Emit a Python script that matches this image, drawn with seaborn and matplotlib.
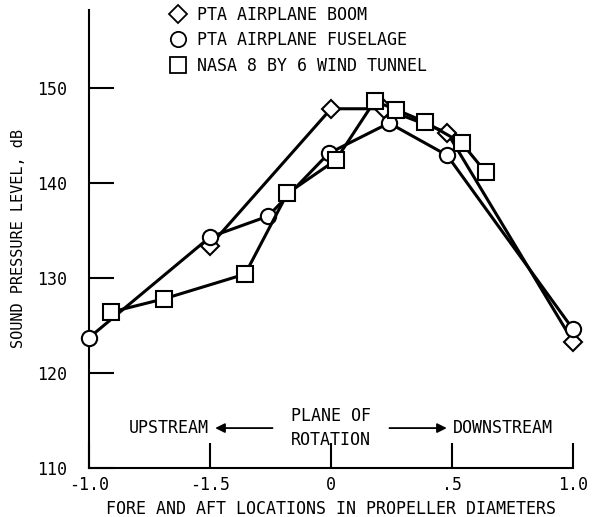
import pandas as pd
import seaborn as sns
import matplotlib.pyplot as plt
from matplotlib.lines import Line2D

# values
boom_x = [-0.50, 0.0, 0.22, 0.48, 1.0]
boom_y = [133.4, 147.8, 147.8, 145.3, 123.3]

fuselage_x = [-1.0, -0.50, -0.26, -0.01, 0.24, 0.48, 1.0]
fuselage_y = [123.7, 134.3, 136.5, 143.1, 146.3, 142.9, 124.6]

tunnel_x = [-0.91, -0.69, -0.355, -0.18, 0.02, 0.18, 0.27, 0.39, 0.54, 0.64]
tunnel_y = [126.4, 127.8, 130.4, 138.9, 142.4, 148.6, 147.7, 146.4, 144.2, 141.1]

series_names = ['PTA AIRPLANE BOOM', 'PTA AIRPLANE FUSELAGE', 'NASA 8 BY 6 WIND TUNNEL']
x_ticks = [-1.0, -0.5, 0.0, 0.5, 1.0]
x_tick_labels = ['-1.0', '-1.5', '0', '.5', '1.0']
y_ticks = [110, 120, 130, 140, 150]

df = pd.concat([
    pd.DataFrame({'x': boom_x, 'y': boom_y, 'src': series_names[0]}),
    pd.DataFrame({'x': fuselage_x, 'y': fuselage_y, 'src': series_names[1]}),
    pd.DataFrame({'x': tunnel_x, 'y': tunnel_y, 'src': series_names[2]}),
])

sns.set_style('white')
plt.rcParams['font.family'] = ['DejaVu Sans Mono']
plt.rcParams['text.color'] = 'black'
plt.rcParams['axes.labelcolor'] = 'black'
plt.rcParams['xtick.color'] = 'black'
plt.rcParams['ytick.color'] = 'black'
FS = 12

fig = plt.figure(figsize=(5.96, 5.17), dpi=100)
ax = fig.add_axes([0.1493, 0.0948, 0.8121, 0.886])

marker_map = dict(zip(series_names, ['D', 'o', 's']))
sizes = {'D': 9.5, 'o': 11, 's': 11}
for name in series_names:
    m = marker_map[name]
    sns.lineplot(data=df[df['src'] == name], x='x', y='y', sort=False, estimator=None,
                 color='black', linewidth=2.2, marker=m, markersize=sizes[m],
                 markerfacecolor='white', markeredgecolor='black', markeredgewidth=1.5,
                 clip_on=False, zorder=3, ax=ax, legend=False)

ax.set_xlim(-1.0, 1.0)
ax.set_ylim(110, 158.2)
ax.set_xticks(x_ticks)
ax.set_xticklabels(x_tick_labels, fontsize=FS)
ax.set_yticks(y_ticks)
ax.set_yticklabels([str(v) for v in y_ticks], fontsize=FS)
ax.tick_params(axis='both', direction='in', length=18, width=1.5, color='black',
               bottom=True, left=True, pad=6)
ax.tick_params(axis='y', pad=16)
for s in ['top', 'right']:
    ax.spines[s].set_visible(False)
for s in ['left', 'bottom']:
    ax.spines[s].set_linewidth(1.5)
    ax.spines[s].set_color('black')
ax.set_xlabel('FORE AND AFT LOCATIONS IN PROPELLER DIAMETERS', fontsize=FS, labelpad=4)
ax.set_ylabel('SOUND PRESSURE LEVEL, dB', fontsize=FS - 1, labelpad=8)

# direction notes
ax.text(-0.505, 114.2, 'UPSTREAM', ha='right', va='center', fontsize=FS)
ax.annotate('', xy=(-0.49, 114.2), xytext=(-0.23, 114.2),
            arrowprops=dict(arrowstyle='-|>', color='black', lw=1.3, mutation_scale=14))
ax.text(0.0, 114.2, 'PLANE OF\nROTATION', ha='center', va='center', fontsize=FS, linespacing=1.4)
ax.annotate('', xy=(0.49, 114.2), xytext=(0.23, 114.2),
            arrowprops=dict(arrowstyle='-|>', color='black', lw=1.3, mutation_scale=14))
ax.text(0.505, 114.2, 'DOWNSTREAM', ha='left', va='center', fontsize=FS)

handles = [Line2D([], [], linestyle='none', marker=marker_map[n], markersize=sizes[marker_map[n]],
                  markerfacecolor='white', markeredgecolor='black', markeredgewidth=1.3)
           for n in series_names]
fig.legend(handles, series_names, loc='upper left', bbox_to_anchor=(0.26, 1.018),
           frameon=False, fontsize=FS, handlelength=1.0, handletextpad=0.6, labelspacing=0.45)

fig.savefig('out.png', dpi=100)
